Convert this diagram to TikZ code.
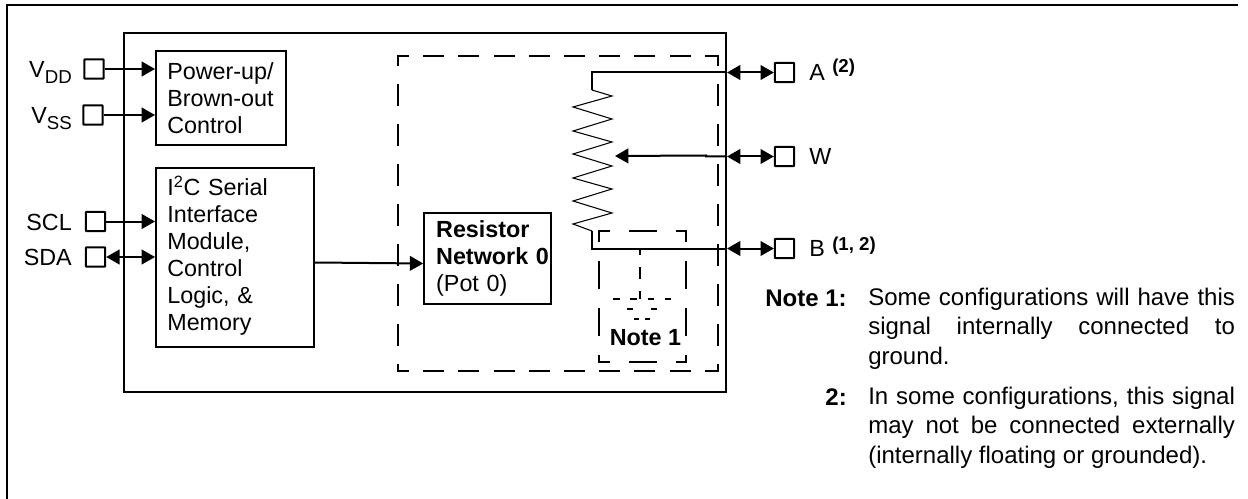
\documentclass[tikz,border=0pt]{standalone}
\usepackage{fontspec}
\setmainfont{Liberation Sans}
\usetikzlibrary{arrows.meta, positioning}

\begin{document}
\begin{tikzpicture}[
        x=0.75pt, y=-0.75pt,
        every node/.style={font=\fontsize{17.5}{20.2}\selectfont},
        block/.style={rectangle, draw, line width=1.5pt, inner xsep=8.5pt, inner ysep=0pt, align=left},
        pin/.style={rectangle, draw, line width=1.5pt, rounded corners=0.5pt, minimum size=14.5pt, inner sep=0pt},
        pinlabel/.style={inner sep=0pt, anchor=base east},
        portlabel/.style={inner sep=0pt},
        noteref/.style={inner sep=0pt, font=\fontsize{14}{16}\selectfont\bfseries},
        notehead/.style={inner sep=0pt, anchor=base east, font=\fontsize{18}{22}\selectfont\bfseries},
        notetext/.style={inner sep=0pt, text width=275pt, align=justify, font=\fontsize{18}{22}\selectfont},
        wire/.style={line width=1.5pt},
        arrow/.style={-{Triangle[length=10pt, width=11pt]}, line width=1.5pt},
        twoway/.style={{Triangle[length=10pt, width=11pt]}-{Triangle[length=10pt, width=11pt]}, line width=1.5pt},
        regionh/.style={line width=1.2pt, line cap=rect, dash pattern=on 14.55pt off 11.85pt, dash phase=6.9pt},
        regionv/.style={line width=1.2pt, line cap=rect, dash pattern=on 15.3pt off 14.7pt, dash phase=8.5pt},
        subregion/.style={line width=1.2pt, line cap=rect, dash pattern=on 19.4pt off 15.8pt, dash phase=12pt},
        gndstem/.style={line width=1.2pt, dash pattern=on 9pt off 9pt, dash phase=4.5pt},
        gnd/.style={line width=1.2pt, dash pattern=on 5pt off 8pt}
    ]
        \useasboundingbox (0,0) rectangle (1248,499);

        % page frame and device body
        \coordinate (frameBL) at (7,499);
        \coordinate (frameTL) at (7,5);
        \coordinate (frameTR) at (1238,5);
        \draw[line width=1.5pt] (frameBL) -- (frameTL) -- (frameTR);
        \node[draw, line width=1.5pt, minimum width=451.5pt, minimum height=269.25pt, inner sep=0pt] (device) at (425,212.5) {};

        % blocks
        \node[block, minimum height=70.5pt, text width=80.5pt] (power) at (221,98) {Power-up/\\Brown-out\\Control};
        \node[block, minimum height=134.25pt, text width=101.5pt] (iface) at (235,257.5) {I\textsuperscript{2}C Serial\\Interface\\Module,\\Control\\Logic, \&\\Memory\vspace{3pt}};
        \node[block, minimum height=68.25pt, inner xsep=9pt, text width=77pt] (network) at (487.5,258.5) {\textbf{Resistor}\\\mbox{\textbf{Network 0}}\\(Pot 0)};

        % left pins
        \node[pin] (vdd) at (94,69) {};
        \node[pin] (vss) at (93,115) {};
        \node[pin] (scl) at (95.5,221.5) {};
        \node[pin] (sda) at (95.5,257) {};
        \node[pinlabel] at (72,78) {V\raisebox{-4pt}{\fontsize{14}{16}\selectfont DD}};
        \node[pinlabel] at (72,124) {V\raisebox{-4pt}{\fontsize{14}{16}\selectfont SS}};
        \node[pinlabel] at (72,230) {SCL};
        \node[pinlabel] at (72,265) {SDA};
        \draw[arrow] (vdd) -- (power.west |- vdd);
        \draw[arrow] (vss) -- (power.west |- vss);
        \draw[arrow] (scl) -- (iface.west |- scl);
        \draw[twoway] (sda) -- (iface.west |- sda);
        \draw[arrow] ([yshift=-3.75pt]iface.east) -- ([yshift=-3.75pt]network.west);

        % dashed regions
        \coordinate (regionTL) at (398,56);
        \coordinate (regionTR) at (718,56);
        \coordinate (regionBL) at (398,371);
        \coordinate (regionBR) at (718,371);
        \draw[regionh] (regionTL) -- (regionTR);
        \draw[regionh] (regionBL) -- (regionBR);
        \draw[regionv] (regionTL) -- (regionBL);
        \draw[regionv] (regionTR) -- (regionBR);
        \coordinate (subTL) at (599,231);
        \coordinate (subTR) at (686,231);
        \coordinate (subBL) at (599,362);
        \coordinate (subBR) at (686,362);
        \draw[subregion] (subTL) -- (subTR);
        \draw[subregion] (subBL) -- (subBR);
        \draw[subregion] (subTL) -- (subBL);
        \draw[subregion] (subTR) -- (subBR);

        % right pins
        \node[pin] (pinA) at (784.5,72.5) {};
        \node[pin] (pinW) at (784.5,156.5) {};
        \node[pin] (pinB) at (784.5,248.5) {};
        \node[portlabel, right=10.5pt of pinA] (labelA) {A};
        \node[portlabel, right=10.5pt of pinW] (labelW) {W};
        \node[portlabel, right=10.5pt of pinB] (labelB) {B};
        \node[noteref, anchor=base west] at (832,73) {(2)};
        \node[noteref, anchor=base west] at (832,250) {(1, 2)};
        \coordinate (portA) at (device.east |- pinA);
        \coordinate (portW) at (device.east |- pinW);
        \coordinate (portB) at (device.east |- pinB);
        \draw[twoway] (portA) -- (pinA);
        \draw[twoway] (portW) -- (pinW);
        \draw[twoway] (portB) -- (pinB);

        % pot
        \coordinate (potTop) at (592,90);
        \coordinate (potBot) at (592,231);
        \coordinate (wiper) at (615,156);
        \draw[wire] (portA) -| (potTop);
        \draw[wire] (portB) -| (potBot);
        \draw[line width=0.8pt] (potTop) -- (612,96) -- (573,107) -- (612,119) -- (573,131) -- (612,142)
            -- (573,154) -- (612,166) -- (573,178) -- (612,189) -- (573,201) -- (612,213) -- (573,224) -- (potBot);
        \draw[arrow] (portW) -- ++(-21,0) -- ++(0,-1) -- (wiper);

        % ground under note
        \coordinate (gndTop) at (640,249);
        \coordinate (gndBot) at (640,299);
        \draw[gndstem] (gndTop) -- (gndBot);
        \draw[gnd] (613,299) -- (671,299);
        \draw[gnd, dash pattern=on 4.5pt off 13.5pt] (627,309) -- (657,309);
        \draw[gnd, dash pattern=on 4pt off 4.5pt] (634,319) -- (650,319);
        \node[inner sep=0pt, anchor=base] (noteOne) at (645.5,345) {\textbf{Note 1}};

        % notes
        \node[notetext, anchor=north west] (noteA) at (868,288) {Some configurations will have this\linebreak signal internally connected to\linebreak ground.};
        \node[notetext, anchor=north west] (noteB) at (868,387) {In some configurations, this signal\linebreak may not be connected externally\linebreak (internally floating or grounded).};
        \node[notehead] at (847,306) {Note 1:};
        \node[notehead] at (847,405) {2:};
    \end{tikzpicture}
\end{document}
